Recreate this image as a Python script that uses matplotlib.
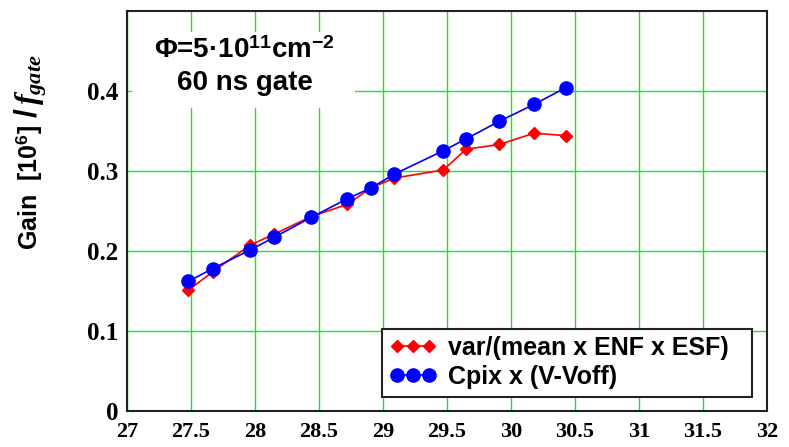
import matplotlib
matplotlib.use("Agg")
import matplotlib.pyplot as plt
from matplotlib.patches import Rectangle

# bias voltage [V]
voltage = [27.48, 27.67, 27.96, 28.15, 28.44, 28.72, 28.91, 29.09, 29.47, 29.65, 29.91, 30.18, 30.43]
# var/(mean x ENF x ESF)
gain_var = [0.151, 0.174, 0.207, 0.221, 0.243, 0.258, 0.279, 0.291, 0.301, 0.327, 0.333, 0.347, 0.344]
# Cpix x (V-Voff)
gain_cpix = [0.162, 0.178, 0.201, 0.217, 0.242, 0.265, 0.279, 0.296, 0.325, 0.340, 0.362, 0.383, 0.404]

xticks = [27, 27.5, 28, 28.5, 29, 29.5, 30, 30.5, 31, 31.5, 32]
yticks = [0, 0.1, 0.2, 0.3, 0.4]

plt.rcParams['mathtext.fontset'] = 'custom'
plt.rcParams['mathtext.rm'] = 'Liberation Sans:bold'
plt.rcParams['mathtext.it'] = 'Liberation Serif:bold:italic'
plt.rcParams['mathtext.bf'] = 'Liberation Sans:bold'

fig = plt.figure(figsize=(7.89, 4.47), dpi=100)
ax = fig.add_axes([0.161, 0.0805, 0.811, 0.8955])

ax.plot(voltage, gain_var, color='red', marker='D', markersize=6.5, lw=1.2,
        label='var/(mean x ENF x ESF)', zorder=3)
ax.plot(voltage, gain_cpix, color='blue', marker='o', markersize=9.5, lw=1.2,
        label='Cpix x (V-Voff)', zorder=4)

ax.set_xlim(27, 32)
ax.set_ylim(0, 0.5)
ax.set_xticks(xticks)
ax.set_yticks(yticks)
ax.set_xticklabels([f"{t:g}" for t in xticks], fontfamily='Liberation Serif',
                   fontweight='bold', fontsize=16)
ax.set_yticklabels([f"{t:g}" for t in yticks], fontfamily='Liberation Serif',
                   fontweight='bold', fontsize=18)
ax.tick_params(length=0, pad=6)
ax.tick_params(axis='x', pad=8)
ax.grid(True, color='#11ee11', lw=1.0)
ax.set_axisbelow(True)
for s in ax.spines.values():
    s.set_linewidth(1.5)
    s.set_color('#222222')

# y label in two pieces, the f_gate part is set larger
fig.text(0.047, 0.44, 'Gain  [10$^{6}$]', rotation=90, rotation_mode='anchor',
         ha='left', va='baseline', fontfamily='Liberation Sans',
         fontweight='bold', fontsize=18)
fig.text(0.047, 0.735, r'$/\,f_{gate}$', rotation=90, rotation_mode='anchor',
         ha='left', va='baseline', fontsize=23)

# white box behind the annotation
ax.add_patch(Rectangle((0.008, 0.756), 0.348, 0.19, transform=ax.transAxes,
                       facecolor='white', edgecolor='none', zorder=2))
ax.text(0.184, 0.9, r'Φ=5·10$^{11}$cm$^{-2}$', transform=ax.transAxes,
        ha='center', va='center', fontfamily='Liberation Sans', fontweight='bold',
        fontsize=20, zorder=5)
ax.text(0.184, 0.82, '60 ns gate', transform=ax.transAxes,
        ha='center', va='center', fontfamily='Liberation Sans', fontweight='bold',
        fontsize=20, zorder=5)

leg = ax.legend(loc='lower left', bbox_to_anchor=(0.398, 0.036, 0.579, 0.171),
                mode='expand', borderaxespad=0,
                numpoints=3, handlelength=1.9, handletextpad=0.45, labelspacing=0.2,
                borderpad=0.3, fancybox=False, framealpha=1, edgecolor='#222222',
                prop={'family': 'Liberation Sans', 'weight': 'bold', 'size': 18})
leg.get_frame().set_linewidth(1.5)

fig.savefig('out.png', dpi=100)
